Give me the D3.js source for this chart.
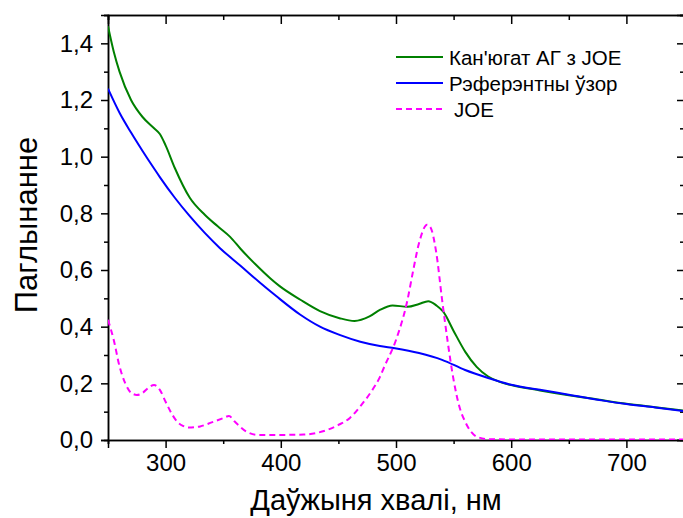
<!DOCTYPE html>
<html>
<head>
<meta charset="utf-8">
<script src="https://cdn.jsdelivr.net/npm/d3@7"></script>
<style>
  body { margin: 0; background: #fff; }
  svg { display: block; font-family: "Liberation Sans", Arial, sans-serif; }
</style>
</head>
<body>
<div class="plot"></div>
<script>
// Data
const greenWl = [250,255,260,270,280,290,295,300,308,321,334,345,356,365,378,391,399,417,434,451,464,477,486,497,510,520,528,535,541,550,560,570,580,590,600,625,650,675,700,725,750];
const greenAbs = [1.46,1.37,1.30,1.20,1.14,1.10,1.08,1.04,0.96,0.855,0.795,0.755,0.717,0.675,0.62,0.57,0.543,0.495,0.455,0.43,0.42,0.436,0.459,0.475,0.47,0.48,0.49,0.475,0.453,0.385,0.312,0.258,0.224,0.205,0.194,0.175,0.158,0.143,0.128,0.116,0.104];

const blueWl = [250,260,270,280,290,295,308,321,334,347,365,382,396,417,434,451,469,486,499,520,540,560,580,600,625,650,680,700,725,750];
const blueAbs = [1.24,1.155,1.085,1.02,0.958,0.928,0.855,0.79,0.731,0.678,0.615,0.555,0.508,0.442,0.40,0.371,0.347,0.332,0.324,0.307,0.283,0.247,0.219,0.195,0.177,0.16,0.139,0.127,0.115,0.102];

const joeWl = [250,255,260,265,270,275,280,285,290,295,300,305,310,315,320,330,340,350,355,360,370,380,400,420,430,440,450,460,470,480,486,490,500,510,515,520,527,530,535,540,545,550,555,560,565,570,580,600,750];
const joeAbs = [0.424,0.353,0.26,0.20,0.167,0.159,0.166,0.184,0.194,0.177,0.135,0.095,0.065,0.05,0.044,0.048,0.062,0.077,0.085,0.065,0.03,0.018,0.018,0.019,0.024,0.035,0.053,0.078,0.124,0.18,0.222,0.26,0.353,0.495,0.60,0.695,0.76,0.75,0.66,0.495,0.343,0.212,0.118,0.065,0.03,0.012,0.003,0.002,0.002];

const seriesNames = ["Кан'югат АГ з JOE", "Рэферэнтны ўзор", "JOE"];
const seriesColors = ["#008000", "#0000ff", "#ff00ff"];

const xMajor = [300, 400, 500, 600, 700];
const xMinor = [250, 350, 450, 550, 650, 750];
const yMajor = [0, 0.2, 0.4, 0.6, 0.8, 1.0, 1.2, 1.4];
const yMinor = [0.1, 0.3, 0.5, 0.7, 0.9, 1.1, 1.3, 1.5];

const W = 683, H = 518;
const margin = {top: 15, right: -1, bottom: 78, left: 108};

const svg = d3.select(".plot").append("svg")
    .attr("width", W)
    .attr("height", H);

const x = d3.scaleLinear().domain([250, 750]).range([margin.left, W - margin.right]);
const y = d3.scaleLinear().domain([0, 1.5]).range([H - margin.bottom, margin.top]);

const fmt = d => d3.format(".1f")(d).replace(".", ",");

// axes
function styleAxis(g) {
    g.select(".domain").attr("stroke", "#000").attr("stroke-width", 1.5);
    g.selectAll(".tick line").attr("stroke", "#000").attr("stroke-width", 1.5);
    g.selectAll(".tick text")
        .attr("fill", "#000")
        .style("font-size", "24px")
        .style("font-family", "'Liberation Sans', Arial, sans-serif");
}

const yBase = H - margin.bottom;

svg.append("g").attr("transform", `translate(0,${yBase})`)
    .call(d3.axisBottom(x).tickValues(xMajor).tickSize(8).tickPadding(6).tickFormat(d3.format("d")))
    .call(styleAxis);
svg.append("g").attr("transform", `translate(0,${yBase})`)
    .call(d3.axisBottom(x).tickValues(xMinor).tickSize(4).tickFormat(""))
    .call(styleAxis);

svg.append("g").attr("transform", `translate(0,${margin.top})`)
    .call(d3.axisBottom(x).tickValues(xMajor).tickSize(9).tickFormat(""))
    .call(styleAxis);
svg.append("g").attr("transform", `translate(0,${margin.top})`)
    .call(d3.axisBottom(x).tickValues(xMinor).tickSize(5).tickFormat(""))
    .call(styleAxis);

svg.append("g").attr("transform", `translate(${margin.left},0)`)
    .call(d3.axisLeft(y).tickValues(yMajor).tickSize(7).tickPadding(8).tickFormat(fmt))
    .call(styleAxis);
svg.append("g").attr("transform", `translate(${margin.left},0)`)
    .call(d3.axisLeft(y).tickValues(yMinor).tickSize(4).tickFormat(""))
    .call(styleAxis);

svg.append("g").attr("transform", `translate(${W - margin.right},0)`)
    .call(d3.axisRight(y).tickValues(yMajor).tickSize(-7).tickFormat(""))
    .call(styleAxis);
svg.append("g").attr("transform", `translate(${W - margin.right},0)`)
    .call(d3.axisRight(y).tickValues(yMinor).tickSize(-4).tickFormat(""))
    .call(styleAxis);

// curves
const line = d3.line()
    .x(d => x(d[0]))
    .y(d => y(d[1]))
    .curve(d3.curveMonotoneX);

svg.append("clipPath").attr("id", "clip")
    .append("rect")
    .attr("x", margin.left).attr("y", margin.top)
    .attr("width", W - margin.right - margin.left)
    .attr("height", yBase - margin.top);

const series = [
    {wl: greenWl, v: greenAbs, dash: null},
    {wl: blueWl, v: blueAbs, dash: null},
    {wl: joeWl, v: joeAbs, dash: "6,4"}
];

const plot = svg.append("g").attr("clip-path", "url(#clip)");
series.forEach((s, i) => {
    plot.append("path")
        .datum(d3.zip(s.wl, s.v))
        .attr("fill", "none")
        .attr("stroke", seriesColors[i])
        .attr("stroke-width", 2)
        .attr("stroke-dasharray", s.dash)
        .attr("d", line);
});

// legend
const legend = svg.append("g").attr("transform", "translate(396, 57)");
seriesNames.forEach((name, i) => {
    const row = legend.append("g").attr("transform", `translate(0, ${i * 26})`);
    row.append("line")
        .attr("x1", 0).attr("x2", 47)
        .attr("stroke", seriesColors[i])
        .attr("stroke-width", 2)
        .attr("stroke-dasharray", series[i].dash);
    row.append("text")
        .attr("x", i === 2 ? 58 : 53)
        .attr("y", 8)
        .style("font-size", "20.5px")
        .attr("fill", "#000")
        .text(name);
});

// titles
svg.append("text")
    .attr("x", 376)
    .attr("y", 510)
    .attr("text-anchor", "middle")
    .style("font-size", "29px")
    .text("Даўжыня хвалі, нм");

svg.append("text")
    .attr("transform", "translate(37, 225) rotate(-90)")
    .attr("text-anchor", "middle")
    .style("font-size", "31px")
    .text("Паглынанне");
</script>
</body>
</html>
